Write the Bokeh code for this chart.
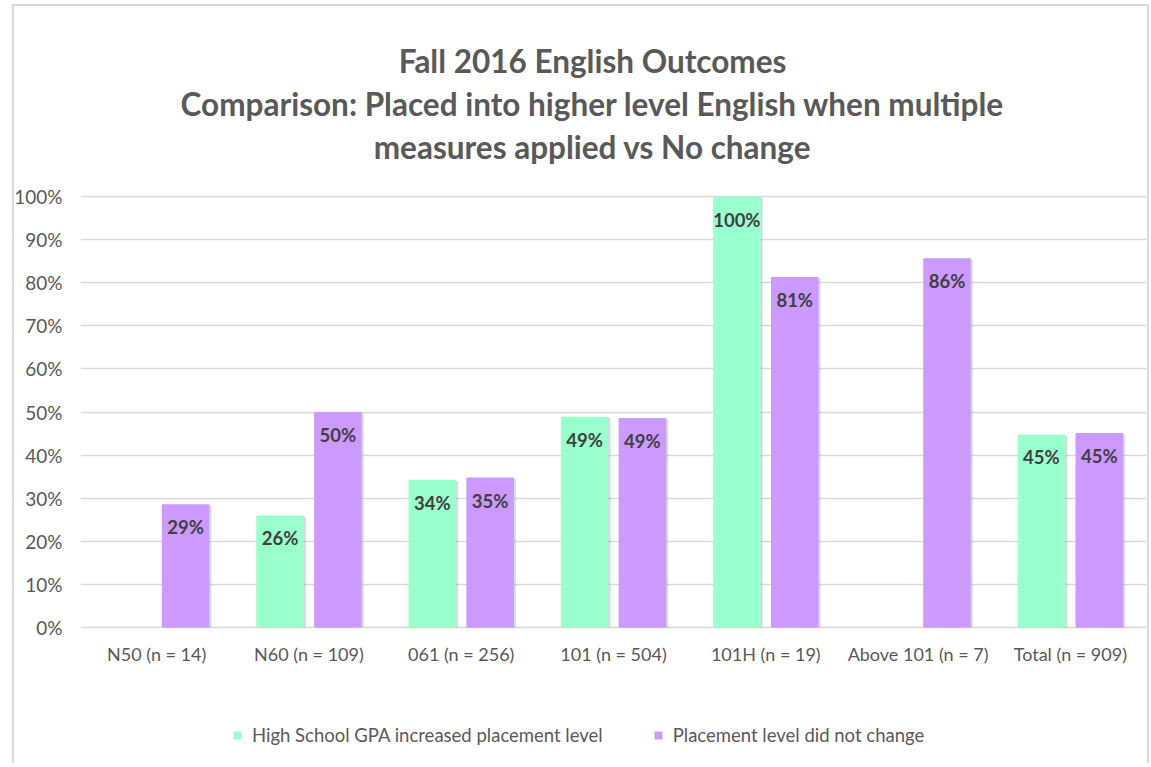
from bokeh.plotting import figure
from bokeh.models import (ColumnDataSource, FactorRange, Legend, LegendItem, InlineStyleSheet,
                          NumeralTickFormatter, FixedTicker, Range1d)
from bokeh.transform import dodge
from bokeh.embed import file_html
from bokeh.resources import INLINE

categories = ["N50 (n = 14)", "N60 (n = 109)", "061 (n = 256)", "101 (n = 504)",
              "101H (n = 19)", "Above 101 (n = 7)", "Total (n = 909)"]
gpa_increased = [None, 26.0, 34.3, 48.9, 100.0, None, 44.8]
no_change = [28.6, 50.0, 34.8, 48.6, 81.3, 85.7, 45.1]
series_names = ["High School GPA increased placement level", "Placement level did not change"]
y_ticks = [0, 10, 20, 30, 40, 50, 60, 70, 80, 90, 100]
title_lines = ["Fall 2016 English Outcomes",
               "Comparison: Placed into higher level English when multiple",
               "measures applied vs No change"]

FONT = "Lato"
GREEN = "#99FFCC"
PURPLE = "#CC99FF"
TXT = "#595959"
NAN = float("nan")

def lab(v):
    return "" if v is None else f"{round(v):d}%"

def frac(v, d=0.0):
    return NAN if v is None else (v - d) / 100.0

src = ColumnDataSource(dict(
    cat=categories,
    zero=[0.0] * len(categories),
    g=[frac(v) for v in gpa_increased],
    p=[frac(v) for v in no_change],
    g_sh=[frac(v, 0.3) for v in gpa_increased],
    p_sh=[frac(v, 0.3) for v in no_change],
    g_lab=[lab(v) for v in gpa_increased],
    p_lab=[lab(v) for v in no_change],
))

W, H = 1150, 763
TOP, ZERO = 196, 627           # pixel rows of 100% and 0%
PX_PER_UNIT = ZERO - TOP
p = figure(x_range=FactorRange(*categories, range_padding=0),
           y_range=Range1d(-(H - ZERO) / PX_PER_UNIT, 1.0 + TOP / PX_PER_UNIT),
           x_axis_location=None,
           width=W, height=H, output_backend="svg", toolbar_location=None,
           min_border_left=80, min_border_right=4, min_border_bottom=0, min_border_top=0)
p.background_fill_color = "white"
p.border_fill_color = "white"
p.outline_line_color = None

# light chart-area border drawn as a non-layout overlay (bottom edge lies outside the picture)
p.stylesheets = [InlineStyleSheet(css="""
:host { position: relative; }
:host::after {
  content: ""; position: absolute; left: 12px; top: 4px;
  width: 1137px; height: 759px; box-sizing: border-box;
  border-style: solid; border-color: #D9D9D9; border-width: 2px 2px 0 2px;
  pointer-events: none;
}
""")]

BW = 0.312
OFF = 0.19
# subtle shadows
p.vbar(x=dodge("cat", -OFF + 0.014, range=p.x_range), top="g_sh", width=BW, source=src,
       fill_color="#999999", fill_alpha=0.35, line_color=None)
p.vbar(x=dodge("cat", OFF + 0.014, range=p.x_range), top="p_sh", width=BW, source=src,
       fill_color="#999999", fill_alpha=0.35, line_color=None)
r1 = p.vbar(x=dodge("cat", -OFF, range=p.x_range), top="g", width=BW, source=src,
            fill_color=GREEN, line_color=None)
r2 = p.vbar(x=dodge("cat", OFF, range=p.x_range), top="p", width=BW, source=src,
            fill_color=PURPLE, line_color=None)

for xo, col, lc in ((-OFF, "g", "g_lab"), (OFF, "p", "p_lab")):
    p.text(x=dodge("cat", xo, range=p.x_range), y=col, text=lc, source=src,
           text_align="center", text_baseline="middle", y_offset=23,
           text_font_size="18.5px", text_font_style="bold", text_color="#404040",
           text_font={"value": FONT})

# category labels (x axis)
p.text(x="cat", y="zero", text="cat", source=src, text_align="center",
       text_baseline="middle", y_offset=26, text_font_size="18px",
       text_color=TXT, text_font={"value": FONT})

# chart title, three centred lines above the plot
title_src = ColumnDataSource(dict(
    x=[categories[3]] * len(title_lines),
    y=[1.0] * len(title_lines),
    dy=[-136, -93, -50],
    text=title_lines,
))
p.text(x="x", y="y", text="text", y_offset="dy", x_offset=-21, source=title_src,
       text_align="center", text_baseline="middle", text_font_size="31.5px",
       text_font_style="bold", text_color=TXT, text_font={"value": FONT})

p.ygrid.grid_line_color = "#D9D9D9"
p.ygrid.grid_line_width = 1.5
p.xgrid.grid_line_color = None

p.yaxis.ticker = FixedTicker(ticks=[t / 100 for t in y_ticks])
p.yaxis.formatter = NumeralTickFormatter(format="0%")
p.yaxis.axis_line_color = None
p.yaxis.major_tick_line_color = None
p.yaxis.minor_tick_line_color = None
p.yaxis.major_label_text_font = FONT
p.yaxis.major_label_text_font_size = "19px"
p.yaxis.major_label_text_color = TXT
p.yaxis.major_label_standoff = 12

legend = Legend(items=[LegendItem(label=series_names[0], renderers=[r1]),
                       LegendItem(label=series_names[1], renderers=[r2])],
                orientation="horizontal", location=(152, 17),
                label_text_font=FONT, label_text_font_size="18.5px", label_text_color=TXT,
                glyph_width=10, glyph_height=10, spacing=50, border_line_color=None,
                background_fill_alpha=0, margin=0, padding=4, label_standoff=10)
p.add_layout(legend)

open("out.html", "w").write(file_html(p, INLINE))
